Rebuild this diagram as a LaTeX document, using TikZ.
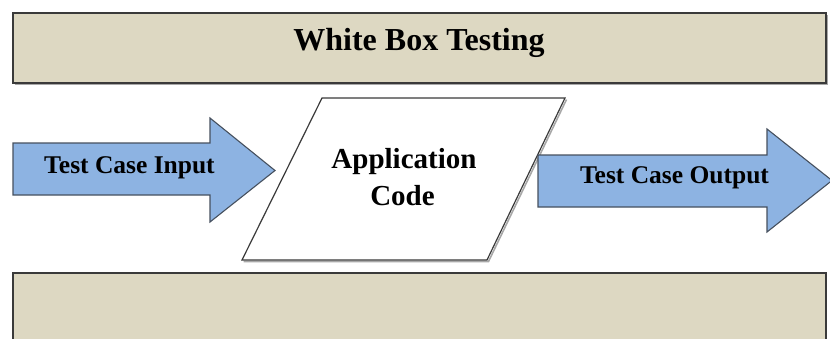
\documentclass[tikz,border=0pt]{standalone}
\usepackage{fontspec}
\setmainfont{Liberation Serif}
\definecolor{tanfill}{HTML}{DDD8C2}
\definecolor{bluefill}{HTML}{8DB3E2}
\definecolor{boxline}{HTML}{3A3A3A}
\definecolor{arrowline}{HTML}{46505E}
\definecolor{shadowgray}{HTML}{A8A8A8}
\begin{document}
\begin{tikzpicture}[x=1pt,y=-1pt,
  bandbox/.style={fill=tanfill,draw=boxline,line width=1.5pt},
  bigarrow/.style={fill=bluefill,draw=arrowline,line width=1.1pt,line join=miter},
  codeshape/.style={fill=white,draw=boxline,line width=1.2pt,line join=miter},
  shadowline/.style={draw=shadowgray,line width=1.6pt},
  lbl/.style={font=\bfseries,text=black,anchor=base,inner sep=0pt}]
\useasboundingbox (0,0) rectangle (830,338);
% top band
\draw[shadowline] (14.5,84.5) -- (827.5,84.5) -- (827.5,14.5);
\path[bandbox] (13,13) rectangle (826,83);
\node[lbl,font=\bfseries\fontsize{32}{36}\selectfont] (title) at (419,50) {White Box Testing};
% bottom band
\path[bandbox] (13,273) rectangle (826,345);
\coordinate (bottomband) at (419,305);
% input arrow
\path[bigarrow] (13,143) -- (210,143) -- (210,118) -- (275,170.5) -- (210,222) -- (210,195) -- (13,195) -- cycle;
\node[lbl,font=\bfseries\fontsize{25.5}{30}\selectfont] (input) at (129.5,173) {Test Case Input};
% application code
\draw[shadowline] (243.5,261.5) -- (488.5,261.5) -- (566.5,99.5);
\path[codeshape] (322,98) -- (565,98) -- (487,260) -- (242,260) -- cycle;
\node[lbl,font=\bfseries\fontsize{29}{37}\selectfont] (app) at (404,168) {Application};
\node[lbl,font=\bfseries\fontsize{29}{37}\selectfont] (code) at (402.5,205) {Code};
% output arrow
\path[bigarrow] (538,155) -- (767,155) -- (767,129) -- (832,180.5) -- (767,232) -- (767,207) -- (538,207) -- cycle;
\node[lbl,font=\bfseries\fontsize{25.5}{30}\selectfont] (output) at (674.5,183) {Test Case Output};
\end{tikzpicture}
\end{document}
